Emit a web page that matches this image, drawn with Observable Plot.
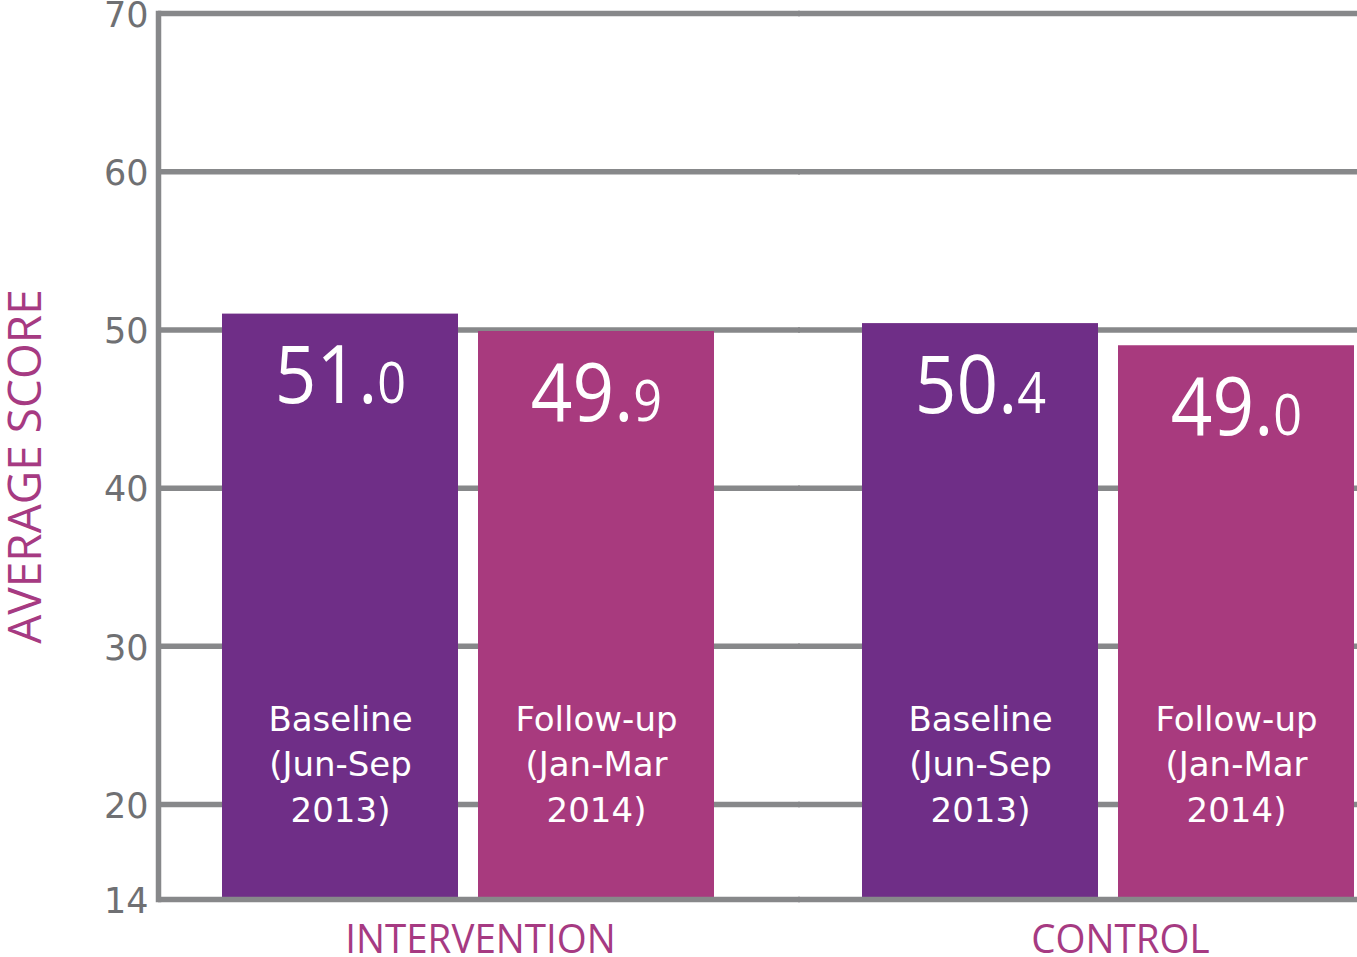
<!DOCTYPE html>
<html>
<head>
<meta charset="utf-8">
<script src="https://cdn.jsdelivr.net/npm/d3@7"></script>
<script src="https://cdn.jsdelivr.net/npm/@observablehq/plot@0.6"></script>
<style>
  html, body { margin: 0; padding: 0; background: #ffffff; }
  #chart svg { display: block; }
</style>
</head>
<body>
<div id="chart"></div>
<script>
// ---- data ----
const groups = ["INTERVENTION", "CONTROL"];
const periods = ["Baseline\n(Jun-Sep\n2013)", "Follow-up\n(Jan-Mar\n2014)"];
const interventionScores = [51.0, 49.9];
const controlScores = [50.4, 49.0];
const yTicks = [14, 20, 30, 40, 50, 60, 70];
const yTitle = "AVERAGE SCORE";

const scoresByGroup = [interventionScores, controlScores];
const rows = groups.flatMap((g, i) =>
  periods.map((p, j) => ({group: g, period: p, value: scoresByGroup[i][j]}))
);
const groupLabels = groups.map(g => ({group: g, label: g}));
const titleRows = [{group: groups[0], label: yTitle}];
const yMin = yTicks[0];

const gridColor = "#87888a";
const accent = "#a63a82";
const sans = "'Open Sans', sans-serif";

const chart = Plot.plot({
  width: 1357,
  height: 957,
  marginLeft: 157,
  marginRight: 2,
  marginTop: 13,
  marginBottom: 58,
  style: {fontFamily: "'DejaVu Sans', sans-serif", background: "#ffffff", overflow: "visible"},
  fx: {domain: groups, paddingInner: 0.131, paddingOuter: 0, axis: null, label: null},
  x: {domain: periods, paddingInner: 0.078, paddingOuter: 0.1246, align: 1, axis: null, label: null},
  y: {domain: [yMin, 70], axis: null, label: null},
  color: {domain: periods, range: ["#6f2e87", "#a83a7e"]},
  marks: [
    Plot.ruleY(yTicks.slice(1), {stroke: gridColor, strokeWidth: 5.5, insetRight: -86}),
    Plot.barY(rows, {fx: "group", x: "period", y1: yMin, y2: "value", fill: "period"}),
    Plot.ruleY([yMin], {stroke: gridColor, strokeWidth: 5.5, insetRight: -86}),
    Plot.frame({anchor: "left", facetAnchor: "left", stroke: gridColor, strokeWidth: 5.5}),
    Plot.axisY(yTicks, {anchor: "left", tickSize: 0, tickPadding: 10, dy: 2, fontSize: 35, color: "#6f7073", label: null}),
    Plot.text(rows, {
      fx: "group", x: "period", y: "value",
      text: d => d.value.toFixed(1),
      dy: 89, lineAnchor: "bottom", textAnchor: "middle",
      fill: "white", fontSize: 81, fontFamily: sans, ariaDescription: "value-labels"
    }),
    Plot.text(rows, {
      fx: "group", x: "period", text: "period",
      frameAnchor: "bottom", dy: -78, lineAnchor: "bottom", lineHeight: 1.33,
      textAnchor: "middle", fill: "white", fontSize: 34
    }),
    Plot.text(groupLabels, {
      fx: "group", text: "label", frameAnchor: "bottom", dx: 44, dy: 53,
      lineAnchor: "bottom", textAnchor: "middle", fill: accent, fontSize: 41,
      fontFamily: sans, ariaDescription: "group-labels"
    }),
    Plot.text(titleRows, {
      fx: "group", text: "label", frameAnchor: "left", rotate: -90, textAnchor: "middle",
      dx: -132, dy: 10, fill: accent, fontSize: 46, fontFamily: sans
    })
  ]
});

// split value labels into a large integer part and a smaller decimal digit
d3.select(chart).selectAll("g[aria-description='value-labels'] text").each(function () {
  const m = /^(\d+\.)(\d)$/.exec(this.textContent);
  if (!m) return;
  const el = d3.select(this);
  el.text(null);
  el.append("tspan").text(m[1]);
  el.append("tspan").attr("font-size", 56).text(m[2]);
});

document.getElementById("chart").appendChild(chart);

// the reference uses a narrower typeface: condense those labels horizontally
function condense(selector, factor) {
  d3.select(chart).selectAll(selector).each(function () {
    const len = this.getComputedTextLength();
    if (len > 0) {
      this.setAttribute("textLength", (len * factor).toFixed(1));
      this.setAttribute("lengthAdjust", "spacingAndGlyphs");
    }
  });
}
condense("g[aria-description='value-labels'] text", 0.9);
condense("g[aria-description='group-labels'] text", 0.94);
</script>
</body>
</html>
